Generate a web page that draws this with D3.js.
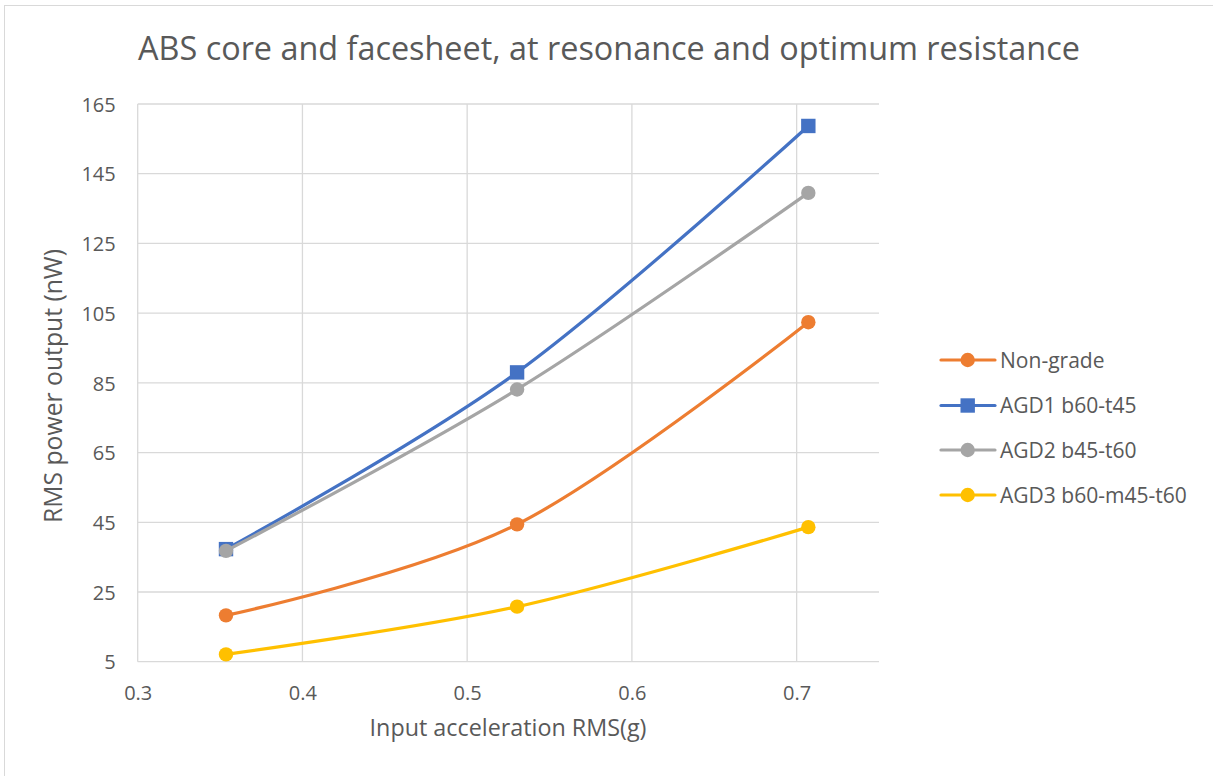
<!DOCTYPE html>
<html>
<head>
<meta charset="utf-8">
<script src="https://cdn.jsdelivr.net/npm/d3@7"></script>
<style>
  html, body { margin: 0; padding: 0; background: #fff; }
  svg { display: block; }
  text { font-family: "Open Sans", "Noto Sans", sans-serif; fill: #595959; }
</style>
</head>
<body>
<svg id="chart" width="1213" height="776"></svg>
<script>
// ---- data ----
const xValues = [0.3536, 0.5303, 0.7071];
const seriesNames = ["Non-grade", "AGD1 b60-t45", "AGD2 b45-t60", "AGD3 b60-m45-t60"];
const nonGrade = [18.3, 44.4, 102.4];
const agd1 = [37.3, 88.0, 158.7];
const agd2 = [36.8, 83.1, 139.5];
const agd3 = [7.1, 20.8, 43.6];
const xTicks = [0.3, 0.4, 0.5, 0.6, 0.7];
const yTicks = [5, 25, 45, 65, 85, 105, 125, 145, 165];
const titleText = "ABS core and facesheet, at resonance and optimum resistance";
const xTitleText = "Input acceleration RMS(g)";
const yTitleText = "RMS power output (nW)";

const seriesValues = [nonGrade, agd1, agd2, agd3];
const colors = ["#ED7D31", "#4472C4", "#A5A5A5", "#FFC000"];
const markers = ["circle", "square", "circle", "circle"];

// ---- layout ----
const svg = d3.select("#chart");
const plot = { left: 137.7, right: 879, top: 104, bottom: 661.7 };
const x = d3.scaleLinear().domain([0.3, 0.75]).range([plot.left, plot.right]);
const y = d3.scaleLinear().domain([5, 165]).range([plot.bottom, plot.top]);

function fit(sel, target) {
  sel.style("font-size", "20px");
  const w = sel.node().getComputedTextLength();
  sel.style("font-size", (20 * target / w) + "px");
  return sel;
}

// outer border
svg.append("rect").attr("x", 4.5).attr("y", 5.5).attr("width", 1215).attr("height", 780)
  .attr("fill", "none").attr("stroke", "#D9D9D9").attr("stroke-width", 1);

// gridlines
const grid = svg.append("g");
grid.selectAll("line.h").data(yTicks).join("line")
  .attr("x1", plot.left).attr("x2", plot.right)
  .attr("y1", d => y(d)).attr("y2", d => y(d))
  .attr("stroke", "#D9D9D9").attr("stroke-width", 1.3);
grid.selectAll("line.v").data(xTicks).join("line")
  .attr("y1", plot.top).attr("y2", plot.bottom)
  .attr("x1", d => x(d)).attr("x2", d => x(d))
  .attr("stroke", "#D9D9D9").attr("stroke-width", 1.3);

// axes (labels only, using d3 axes)
const yAxis = svg.append("g").attr("transform", `translate(${plot.left},0)`)
  .call(d3.axisLeft(y).tickValues(yTicks).tickSize(0).tickPadding(22).tickFormat(d3.format("d")));
yAxis.select(".domain").remove();
yAxis.selectAll("text").style("font-size", "20px").attr("fill", "#595959").attr("dy", "0.36em");

const xAxis = svg.append("g").attr("transform", `translate(0,${plot.bottom})`)
  .call(d3.axisBottom(x).tickValues(xTicks).tickSize(0).tickPadding(24).tickFormat(d3.format(".1f")));
xAxis.select(".domain").remove();
xAxis.selectAll("text").style("font-size", "20px").attr("fill", "#595959").attr("dy", "0.71em");

// title
const title = svg.append("text").attr("x", 609).attr("y", 60).attr("text-anchor", "middle")
  .text(titleText);
fit(title, 942);

// axis titles
const xt = svg.append("text").attr("x", 508).attr("y", 736).attr("text-anchor", "middle").text(xTitleText);
fit(xt, 277);
const yt = svg.append("text").attr("transform", "translate(62,386) rotate(-90)")
  .attr("text-anchor", "middle").text(yTitleText);
fit(yt, 274);

// lines
const line = d3.line().x((d, i) => x(xValues[i])).y(d => y(d)).curve(d3.curveCardinal.tension(0));
const sg = svg.append("g");
seriesValues.forEach((vals, si) => {
  const g = sg.append("g");
  g.append("path").attr("d", line(vals)).attr("fill", "none")
    .attr("stroke", colors[si]).attr("stroke-width", 3.2).attr("stroke-linecap", "round");
  vals.forEach((v, i) => {
    if (markers[si] === "square") {
      g.append("rect").attr("x", x(xValues[i]) - 7.2).attr("y", y(v) - 7.2)
        .attr("width", 14.4).attr("height", 14.4).attr("fill", colors[si]);
    } else {
      g.append("circle").attr("cx", x(xValues[i])).attr("cy", y(v)).attr("r", 7.2).attr("fill", colors[si]);
    }
  });
});

// legend
const legendRows = [360, 405.5, 450, 495];
const lg = svg.append("g");
seriesNames.forEach((name, si) => {
  const cy = legendRows[si];
  lg.append("line").attr("x1", 941).attr("x2", 995).attr("y1", cy).attr("y2", cy)
    .attr("stroke", colors[si]).attr("stroke-width", 3.2).attr("stroke-linecap", "round");
  if (markers[si] === "square") {
    lg.append("rect").attr("x", 967.7 - 7.2).attr("y", cy - 7.2).attr("width", 14.4).attr("height", 14.4).attr("fill", colors[si]);
  } else {
    lg.append("circle").attr("cx", 967.7).attr("cy", cy).attr("r", 7.2).attr("fill", colors[si]);
  }
  const t = lg.append("text").attr("x", 1000).attr("y", cy).attr("dy", "0.36em").text(name);
  if (si === 3) fit(t, 187);
});
const lsize = lg.selectAll("text").filter((d, i) => i === 3).style("font-size");
lg.selectAll("text").style("font-size", lsize);
</script>
</body>
</html>
